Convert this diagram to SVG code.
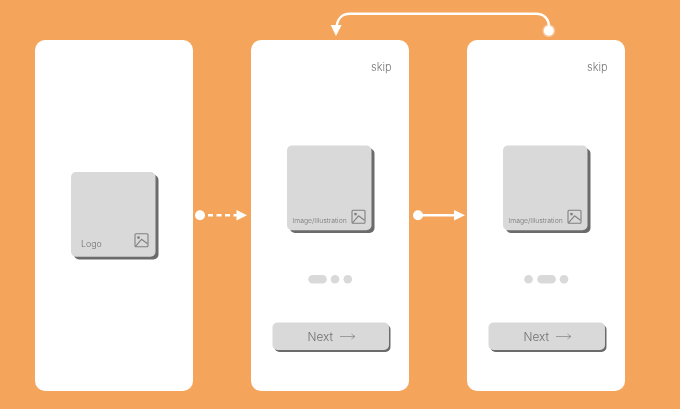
<svg xmlns="http://www.w3.org/2000/svg" width="680" height="409" viewBox="0 0 680 409">
<style>
.screen{fill:#fff}
.shadow{fill:#6b6b6b}
.box{fill:#d9d9d9}
.dot{fill:#d9d9d9}
.ico{fill:none;stroke:#808080;stroke-width:1.100;stroke-linejoin:round}
.t{font-family:"Inter","Liberation Sans",sans-serif;font-weight:300;filter:url(#gray)}
.skip{font-size:11px;fill:#777}
.cap{font-size:6.800px;fill:#777}
.logo{font-size:8.800px;fill:#6f6f6f}
.next{font-size:11.800px;fill:#6f6f6f}
.line{fill:none;stroke:#fff;stroke-width:2.500}
.ar{fill:none;stroke:#8c8c8c;stroke-width:.8}
</style>
<defs>
<filter id="gray" color-interpolation-filters="sRGB" x="-10%" y="-30%" width="120%" height="160%"><feOffset dx="0" dy="0"/></filter>
<g id="pic">
<rect x="0.500" y="0.500" width="13" height="13" rx="1" class="ico"/>
<circle cx="4" cy="4.300" r="1.400" fill="#808080"/>
<path class="ico" d="M1 13L7 6L13 10.500"/>
</g>
<g id="nextbtn">
<rect x="2" y="2" width="116" height="27.500" rx="5" class="shadow"/>
<rect x="0" y="0" width="116.500" height="27.500" rx="5" class="box"/>
<text x="35" y="18.500" class="t next">Next</text>
<path class="ar" d="M67.500 14H82.500M79 11.500L82.500 14L79 16.500"/>
</g>
<g id="imgbox">
<rect x="3" y="3" width="84.500" height="84.500" rx="5" class="shadow"/>
<rect x="0" y="0" width="84.500" height="84.800" rx="5" class="box"/>
</g>
</defs>
<rect width="680" height="409" fill="#f4a45b"/>
<g id="connectors">
<g id="conn-dashed">
<circle cx="200" cy="215.300" r="5" fill="#fff"/>
<path class="line" d="M208 215.300H238" stroke-dasharray="5 3.500"/>
<path d="M236.500 210L247 215.300L236.500 220.500Z" fill="#fff"/>
</g>
<g id="conn-solid">
<circle cx="418" cy="215.300" r="5" fill="#fff"/>
<path class="line" d="M418 215.300H456"/>
<path d="M454 210L465 215.300L454 220.500Z" fill="#fff"/>
</g>
<g id="conn-back">
<path class="line" d="M549 30V27C549 19 544 13.800 536 13.800H350C342 13.800 337 19 336.500 28"/>
<path d="M330.700 25L341.700 25L336 36Z" fill="#fff"/>
<circle cx="548.800" cy="30.700" r="6.500" fill="#fff" fill-opacity=".35"/>
<circle cx="548.800" cy="30.700" r="5" fill="#fff"/>
</g>
</g>
<g id="screen-1">
<rect x="35" y="40" width="158" height="351" rx="10" class="screen"/>
<use href="#imgbox" x="71" y="172"/>
<text x="81" y="246.500" class="t logo">Logo</text>
<use href="#pic" x="134.500" y="233.300"/>
</g>
<g id="screen-2">
<rect x="251" y="40" width="158" height="351" rx="10" class="screen"/>
<text x="371" y="71" class="t skip">skip</text>
<use href="#imgbox" x="287" y="145.500"/>
<text x="292.500" y="223" class="t cap">Image/Illustration</text>
<use href="#pic" x="351.500" y="209.800"/>
<rect x="308.300" y="275" width="18.500" height="8.500" rx="4.250" class="dot"/>
<circle cx="335" cy="279.300" r="4.300" class="dot"/>
<circle cx="347.800" cy="279.300" r="4.300" class="dot"/>
<use href="#nextbtn" x="272.500" y="322.500"/>
</g>
<g id="screen-3">
<rect x="467" y="40" width="158" height="351" rx="10" class="screen"/>
<text x="587" y="71" class="t skip">skip</text>
<use href="#imgbox" x="503" y="145.500"/>
<text x="508.500" y="223" class="t cap">Image/Illustration</text>
<use href="#pic" x="567.500" y="209.800"/>
<circle cx="528.500" cy="279.300" r="4.300" class="dot"/>
<rect x="537.300" y="275" width="18.500" height="8.500" rx="4.250" class="dot"/>
<circle cx="564" cy="279.300" r="4.300" class="dot"/>
<use href="#nextbtn" x="488.500" y="322.500"/>
</g>
</svg>
